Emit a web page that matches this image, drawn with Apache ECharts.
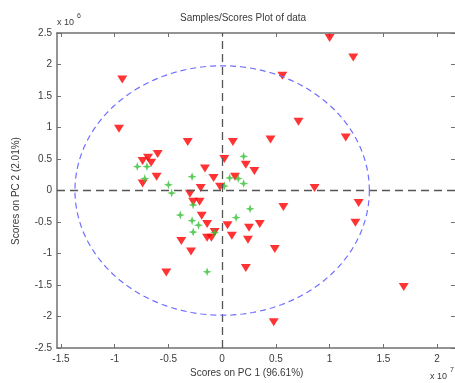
<!DOCTYPE html>
<html><head><meta charset="utf-8">
<script src="https://cdn.jsdelivr.net/npm/echarts@6/dist/echarts.min.js"></script>
<style>html,body{margin:0;padding:0;background:#fff}#c{width:455px;height:383px}</style>
</head><body><div id="c"></div>
<script>
// values in displayed units: x in 1e7, y in 1e6
const xTicks = [-1.5, -1, -0.5, 0, 0.5, 1, 1.5, 2];
const yTicks = [-2.5, -2, -1.5, -1, -0.5, 0, 0.5, 1, 1.5, 2, 2.5];
const titleText = 'Samples/Scores Plot of data';
const xLabel = 'Scores on PC 1 (96.61%)';
const yLabel = 'Scores on PC 2 (2.01%)';

const redX = [-0.93,-0.96,1.00,1.22,0.56,0.71,1.15,0.45,0.10,-0.32,0.86,1.27,1.24,0.57,1.69,0.48,0.49,0.22,-0.52,
  -0.74,-0.69,-0.66,-0.60,-0.61,-0.74,-0.16,-0.08,-0.20,-0.02,0.02,0.22,0.30,0.12,-0.30,-0.27,-0.21,-0.19,-0.14,-0.07,
  0.05,0.35,0.25,0.09,0.24,-0.14,-0.10,-0.38,-0.29];
const redY = [1.76,0.98,2.42,2.11,1.82,1.09,0.84,0.81,0.77,0.77,0.04,-0.20,-0.51,-0.26,-1.53,-2.09,-0.93,-1.23,-1.30,
  0.47,0.52,0.44,0.58,0.22,0.11,0.35,0.20,0.04,0.06,0.50,0.41,0.31,0.22,-0.05,-0.18,-0.18,-0.40,-0.53,-0.66,
  -0.55,-0.53,-0.59,-0.72,-0.78,-0.75,-0.75,-0.80,-0.97];

const greenX = [-0.79,-0.70,-0.72,-0.50,-0.47,-0.28,-0.27,-0.39,-0.28,-0.22,-0.27,-0.07,-0.14,0.20,0.07,0.15,0.20,0.02,0.26,0.13];
const greenY = [0.38,0.38,0.19,0.09,-0.04,0.22,-0.23,-0.39,-0.48,-0.55,-0.66,-0.67,-1.29,0.54,0.20,0.19,0.11,0.07,-0.29,-0.43];

const ellipseRx = 1.37, ellipseRy = 1.98;

const redData = redX.map((x, i) => [x, redY[i]]);
const greenData = greenX.map((x, i) => [x, greenY[i]]);
const ellipseData = [];
for (let k = 0; k <= 180; k++) {
  const t = k / 180 * Math.PI * 2;
  ellipseData.push([ellipseRx * Math.cos(t), ellipseRy * Math.sin(t)]);
}

const font = 'Liberation Sans, Arial, sans-serif';
const axisCol = '#707070';
const txtCol = '#3a3a3a';
const xMin = -1.537, xMax = 2.167;

const chart = echarts.init(document.getElementById('c'), null, {renderer: 'canvas'});
const axisLine = {show: true, onZero: false, lineStyle: {color: axisCol, width: 1.5}};
const tick = {show: true, inside: true, length: 4, lineStyle: {color: axisCol, width: 1}};
chart.setOption({
  animation: false,
  backgroundColor: '#fff',
  grid: {left: 57, right: 0, top: 33, bottom: 35},
  xAxis: [
    {
      type: 'value', position: 'bottom', min: xMin, max: xMax, axisLine: axisLine, splitLine: {show: false},
      axisTick: Object.assign({}, tick, {customValues: xTicks}),
      axisLabel: {customValues: xTicks, color: txtCol, fontFamily: font, fontSize: 10, margin: 6,
        formatter: v => String(v)}
    },
    {
      type: 'value', position: 'top', min: xMin, max: xMax, axisLine: axisLine, splitLine: {show: false},
      axisTick: Object.assign({}, tick, {customValues: xTicks}),
      axisLabel: {show: false}
    }
  ],
  yAxis: [
    {
      type: 'value', position: 'left', min: -2.5, max: 2.5, interval: 0.5, axisLine: axisLine, splitLine: {show: false},
      axisTick: tick,
      axisLabel: {color: txtCol, fontFamily: font, fontSize: 10, margin: 5}
    },
    {
      type: 'value', position: 'right', min: -2.5, max: 2.5, interval: 0.5,
      axisLine: {show: false, onZero: false}, splitLine: {show: false},
      axisTick: tick,
      axisLabel: {show: false}
    }
  ],
  graphic: [
    {type: 'text', left: 180, top: 13, style: {text: titleText, fill: txtCol, font: '10px ' + font}, z: 10},
    {type: 'text', left: 190, top: 368, style: {text: xLabel, fill: txtCol, font: '10px ' + font}},
    {type: 'text', x: 16, y: 191, rotation: Math.PI / 2, style: {text: yLabel, fill: txtCol, font: '10px ' + font, align: 'center', verticalAlign: 'middle'}},
    {type: 'text', x: 57, y: 18, style: {text: 'x 10', fill: txtCol, font: '9px ' + font}},
    {type: 'text', x: 77, y: 13, style: {text: '6', fill: txtCol, font: '7px ' + font}},
    {type: 'text', x: 430, y: 372, style: {text: 'x 10', fill: txtCol, font: '9px ' + font}},
    {type: 'text', x: 450, y: 367, style: {text: '7', fill: txtCol, font: '7px ' + font}}
  ],
  series: [
    {
      type: 'scatter', data: redData, symbol: 'triangle', symbolRotate: 180, symbolSize: [10, 8],
      itemStyle: {color: '#ff0000'}, z: 3,
      markLine: {
        silent: true, symbol: 'none', label: {show: false},
        lineStyle: {color: '#555', type: [8, 5], width: 1.3},
        data: [{xAxis: 0}, {yAxis: 0}]
      }
    },
    {
      type: 'scatter', data: greenData,
      symbol: 'path://M0,-10 L2.5,-2.5 L10,0 L2.5,2.5 L0,10 L-2.5,2.5 L-10,0 L-2.5,-2.5 Z',
      symbolSize: 9, itemStyle: {color: '#33c033'}, z: 4
    },
    {
      type: 'line', data: ellipseData, showSymbol: false, symbol: 'none', smooth: false,
      lineStyle: {color: '#6e6eff', width: 1.2, type: [6, 4]}, z: 5, silent: true
    }
  ]
});
</script></body></html>
